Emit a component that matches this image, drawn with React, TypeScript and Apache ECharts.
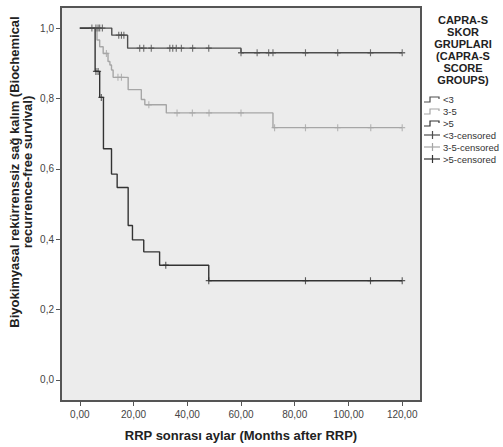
import React, { useEffect, useRef } from "react";
import * as echarts from "echarts";

// Tick values
const xTicks = [0, 20, 40, 60, 80, 100, 120];
const yTicks = [0, 0.2, 0.4, 0.6, 0.8, 1.0];

// Group names
const groupNames = ["<3", "3-5", ">5"];
const censorNames = ["<3-censored", "3-5-censored", ">5-censored"];

// Kaplan-Meier step data: <3 group
const lowTimes = [0, 11.9, 17.8, 60, 120];
const lowSurv = [1.0, 0.98, 0.943, 0.93, 0.93];
const lowCensT = [4.5, 6.0, 6.8, 7.4, 8.4, 14.5, 15.5, 16.4, 22.3, 23.8, 26.6, 33.5, 34.6, 35.9, 37.8, 42.0, 48.0, 60.0, 66.0, 70.3, 71.9, 84.0, 96.0, 108.2, 120.0];
const lowCensS = [1.0, 1.0, 1.0, 1.0, 1.0, 0.98, 0.98, 0.98, 0.943, 0.943, 0.943, 0.943, 0.943, 0.943, 0.943, 0.943, 0.943, 0.93, 0.93, 0.93, 0.93, 0.93, 0.93, 0.93, 0.93];

// 3-5 group
const midTimes = [0, 6.4, 7.4, 8.7, 10.5, 11.2, 11.8, 12.4, 18.0, 22.9, 24.2, 32.2, 71.9, 120];
const midSurv = [1.0, 0.966, 0.947, 0.928, 0.905, 0.895, 0.881, 0.86, 0.825, 0.797, 0.782, 0.759, 0.717, 0.717];
const midCensT = [9.9, 14.2, 15.5, 25.7, 36.2, 41.9, 48.1, 60.0, 72.5, 84.0, 96.0, 108.3, 120.0];
const midCensS = [0.928, 0.86, 0.86, 0.782, 0.759, 0.759, 0.759, 0.759, 0.717, 0.717, 0.717, 0.717, 0.717];

// >5 group
const highTimes = [0, 5.7, 7.4, 8.8, 11.8, 13.9, 18.0, 19.6, 23.8, 29.7, 48.0, 120];
const highSurv = [1.0, 0.877, 0.803, 0.657, 0.585, 0.547, 0.439, 0.398, 0.364, 0.326, 0.282, 0.282];
const highCensT = [6.0, 6.8, 8.0, 32.0, 48.0, 84.0, 108.2, 120.0];
const highCensS = [0.877, 0.877, 0.803, 0.326, 0.282, 0.282, 0.282, 0.282];

const legendTitle = "CAPRA-S\nSKOR\nGRUPLARI\n(CAPRA-S\nSCORE\nGROUPS)";
const xName = "RRP sonrası aylar (Months after RRP)";
const yName = "Biyokimyasal rekürrenssiz sağ kalım (Biochemical\nrecurrence-free survival)";

const colors = ["#4e4e4e", "#a6a6a6", "#333333"];
const FONT = "'Liberation Sans', Arial, sans-serif";
const PLUS = "path://M0,5L10,5M5,0L5,10";

const zip = (a: number[], b: number[]) => a.map((v, i) => [v, b[i]]);

export default function App() {
  const ref = useRef<HTMLDivElement>(null);
  useEffect(() => {
    document.body.style.margin = "0";
    const chart = echarts.init(ref.current!, null, { renderer: "svg" });
    const lines = [
      zip(lowTimes, lowSurv),
      zip(midTimes, midSurv),
      zip(highTimes, highSurv),
    ];
    const cens = [
      zip(lowCensT, lowCensS),
      zip(midCensT, midCensS),
      zip(highCensT, highCensS),
    ];
    const series: any[] = [];
    lines.forEach((d, i) => {
      series.push({
        name: groupNames[i],
        type: "line",
        step: "end",
        data: d,
        symbol: "none",
        lineStyle: { color: colors[i], width: 1.4 },
        z: i === 1 ? 2 : 3,
      });
    });
    cens.forEach((d, i) => {
      series.push({
        name: censorNames[i],
        type: "scatter",
        data: d,
        symbol: PLUS,
        symbolSize: [6, 7],
        itemStyle: { color: "none", borderColor: colors[i], borderWidth: 1.2 },
        z: 4,
      });
    });

    const legendRows = [99, 111, 123, 135, 147, 159];
    const graphics: any[] = [
      {
        type: "text",
        x: 463,
        y: 14,
        style: {
          text: legendTitle,
          textAlign: "center",
          font: `bold 11px ${FONT}`,
          lineHeight: 12,
          fill: "#222",
        },
      },
      {
        type: "text",
        x: 21,
        y: 172,
        rotation: Math.PI / 2,
        style: {
          text: yName,
          textAlign: "center",
          textVerticalAlign: "middle",
          font: `bold 13px ${FONT}`,
          lineHeight: 13,
          fill: "#222",
        },
      },
    ];
    const allNames = [...groupNames, ...censorNames];
    allNames.forEach((name, i) => {
      const y = legendRows[i];
      const c = colors[i % 3];
      if (i < 3) {
        graphics.push({
          type: "polyline",
          shape: { points: [[424, y + 3], [430, y + 3], [430, y - 2], [439, y - 2], [439, y]] },
          style: { stroke: c, lineWidth: 1.2, fill: "none" },
        });
      } else {
        graphics.push({
          type: "line",
          shape: { x1: 424, y1: y, x2: 440, y2: y },
          style: { stroke: c, lineWidth: 1.2 },
        });
        graphics.push({
          type: "line",
          shape: { x1: 432.5, y1: y - 4, x2: 432.5, y2: y + 4 },
          style: { stroke: c, lineWidth: 1.2 },
        });
      }
      graphics.push({
        type: "text",
        x: 443,
        y,
        style: {
          text: name,
          textVerticalAlign: "middle",
          font: `9.5px ${FONT}`,
          fill: "#333",
        },
      });
    });

    chart.setOption({
      animation: false,
      backgroundColor: "#ffffff",
      grid: {
        left: 61,
        top: 7,
        width: 360,
        height: 397,
        show: true,
        backgroundColor: "#ececec",
        borderColor: "#555555",
        borderWidth: 2,
      },
      xAxis: {
        type: "value",
        min: -7,
        max: 127,
        name: xName,
        nameLocation: "middle",
        nameGap: 28,
        nameTextStyle: { fontFamily: FONT, fontWeight: "bold", fontSize: 13, color: "#222" },
        axisLine: { show: false, onZero: false },
        axisTick: { show: true, customValues: xTicks, length: 5, lineStyle: { color: "#555" } },
        axisLabel: {
          customValues: xTicks,
          fontFamily: FONT,
          fontSize: 10,
          color: "#444",
          margin: 8,
          formatter: (v: number) => v.toFixed(2).replace(".", ","),
        },
        splitLine: { show: false },
      },
      yAxis: {
        type: "value",
        min: -0.06,
        max: 1.06,
        axisLine: { show: false, onZero: false },
        axisTick: { show: true, customValues: yTicks, length: 5, lineStyle: { color: "#555" } },
        axisLabel: {
          customValues: yTicks,
          fontFamily: FONT,
          fontSize: 10,
          color: "#444",
          margin: 7,
          formatter: (v: number) => v.toFixed(1).replace(".", ","),
        },
        splitLine: { show: false },
      },
      series,
      graphic: graphics,
    });
    return () => chart.dispose();
  }, []);
  return <div ref={ref} style={{ width: 503, height: 447 }} />;
}
